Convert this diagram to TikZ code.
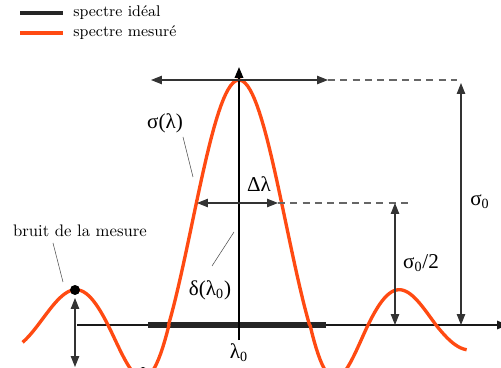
\documentclass[tikz,border=0pt]{standalone}
\usepackage{fontspec}
\newfontfamily\grk{Liberation Serif}
\usetikzlibrary{arrows.meta,positioning,calc}
\definecolor{orangemes}{HTML}{FF4A12}
\definecolor{gristrait}{HTML}{333333}
\tikzset{
  ideal/.style   = {line width=3.4pt, black!85},
  mesure/.style  = {line width=1.9pt, color=orangemes, line join=round},
  axe/.style     = {-{Triangle[length=2.2mm,width=1.7mm]}, line width=0.85pt, black!90},
  cote/.style    = {{Triangle[length=2.2mm,width=1.7mm]}-{Triangle[length=2.2mm,width=1.7mm]},
                    gristrait, line width=0.6pt},
  rappel/.style  = {dash pattern=on 4pt off 3pt, black!60, line width=0.6pt},
  renvoi/.style  = {black!70, line width=0.3pt},
  etiq/.style    = {font=\grk\large, inner sep=1pt},
  legende/.style = {font=\fontsize{8.8}{10}\selectfont, anchor=west, inner sep=0pt},
}

\begin{document}
\begin{tikzpicture}[x=0.02cm, y=-0.02cm]
  \useasboundingbox (0,0) rectangle (501,368);
  \clip (0,0) rectangle (501,368);
  % legend
  \coordinate (li0) at (20,13);  \coordinate (li1) at (63,13);
  \coordinate (lm0) at (20,33);  \coordinate (lm1) at (63,33);
  \draw[line width=2.4pt, black!85] (li0) -- (li1);
  \draw[line width=2.4pt, orangemes] (lm0) -- (lm1);
  \node[legende, right=2mm of li1] (tideal) {spectre idéal};
  \node[legende, right=2mm of lm1] (tmes) {spectre mesuré};
  % axis and ideal spectrum
  \coordinate (ax0) at (77,325);  \coordinate (ax1) at (508,325);
  \coordinate (id0) at (148,325); \coordinate (id1) at (326,325);
  \draw[axe] (ax0) -- (ax1);
  \draw[ideal] (id0) -- (id1);
  % measured spectrum
  \draw[mesure]
    plot[domain=-3.22*pi:-3*pi, samples=10] ({38+70*(\x/pi+3)},{325-275*sin(\x r)/\x})
    -- plot[domain=-3*pi:-2*pi, samples=30] ({108+70*(\x/pi+2)},{325-275*sin(\x r)/\x})
    -- plot[domain=-2*pi:-pi, samples=30] ({169+61*(\x/pi+1)},{325-245*sin(\x r)/\x})
    -- plot[domain=-pi:pi, samples=60] ({239+70.5*\x/pi},{325-245*sin(\x r)/\x})
    -- plot[domain=pi:2*pi, samples=30] ({310+58*(\x/pi-1)},{325-245*sin(\x r)/\x})
    -- plot[domain=2*pi:3*pi, samples=30] ({368+68*(\x/pi-2)},{325-275*sin(\x r)/\x})
    -- plot[domain=3*pi:3.42*pi, samples=12] ({436+73*(\x/pi-3)},{325-275*sin(\x r)/\x});
  % central line
  \coordinate (c0) at (239,340); \coordinate (c1) at (239,67);
  \draw[-{Triangle[length=2.2mm,width=1.7mm]}, line width=1.1pt, black] (c0) -- (c1);
  % heights and widths
  \coordinate (h0) at (151,80); \coordinate (h1) at (328,80); \coordinate (h2) at (457,80);
  \draw[cote] (h0) -- (h1);
  \draw[rappel] (h1) -- (h2);
  \coordinate (s0) at (461,83); \coordinate (s1) at (461,325);
  \draw[cote] (s0) -- (s1);
  \coordinate (d0) at (197,203); \coordinate (d1) at (278,203); \coordinate (d2) at (413,203);
  \draw[cote] (d0) -- (d1);
  \draw[rappel] (d1) -- (d2);
  \coordinate (m0) at (395,203); \coordinate (m1) at (395,325);
  \draw[cote] (m0) -- (m1);
  % noise
  \coordinate (bpic) at (75,290); \coordinate (bcreux) at (143,372);
  \coordinate (b0) at (75,298);   \coordinate (b1) at (75,367);
  \fill (bpic) circle (1mm);
  \fill (bcreux) circle (1mm);
  \draw[cote] (b0) -- (b1);
  % labels
  \node[etiq] (lsig) at (165,123) {σ(λ)};
  \node[etiq] (ldel) at (259,184) {Δλ};
  \node[etiq] (ls0) at (480,202) {σ\textsubscript{0}};
  \node[etiq] (ls2) at (421,263) {σ\textsubscript{0}/2};
  \node[etiq] (ldelta) at (210,290) {δ(λ\textsubscript{0})};
  \node[etiq] (ll0) at (239,353) {λ\textsubscript{0}};
  \node[etiq] (ll) at (507,353) {λ};
  \node[font=\fontsize{9.5}{11}\selectfont, inner sep=1pt] (lbruit) at (80,231) {bruit de la mesure};
  % leader lines
  \coordinate (r1a) at (53,243);  \coordinate (r1b) at (63,282);
  \coordinate (r2a) at (183,137); \coordinate (r2b) at (193,177);
  \coordinate (r3a) at (234,232); \coordinate (r3b) at (212,266);
  \draw[renvoi] (r1a) -- (r1b);
  \draw[renvoi] (r2a) -- (r2b);
  \draw[renvoi] (r3a) -- (r3b);
\end{tikzpicture}
\end{document}
